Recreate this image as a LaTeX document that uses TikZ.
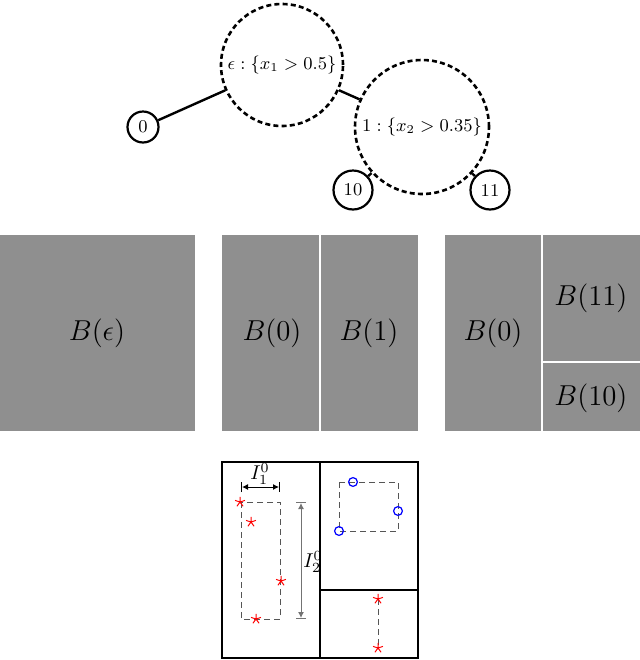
\documentclass[tikz,border=0pt]{standalone}
\usetikzlibrary{arrows.meta, plotmarks}
\definecolor{panelgray}{RGB}{143,143,143}
\definecolor{hullgray}{RGB}{85,85,85}

\begin{document}
\begin{tikzpicture}[x=0.5pt, y=-0.5pt, >=latex,
    split/.style={circle, draw, line width=1.3pt, dash pattern=on 2.5pt off 1.6pt, inner sep=0pt, font=\small},
    leaf/.style={circle, draw, line width=1.1pt, inner sep=0pt, minimum size=19.5pt, font=\small},
    edge/.style={line width=1.2pt},
    cell/.style={font=\Large},
    sep/.style={white, line width=0.9pt},
    frame/.style={line width=1.2pt},
    hull/.style={hullgray, line width=0.5pt, dash pattern=on 3pt off 2pt},
    dim/.style={>={Latex[length=3pt, width=3pt]}, |<->|, line width=0.5pt},
    redpts/.style={only marks, mark=star, mark size=2.6pt, mark options={red, line width=0.5pt}},
    bluepts/.style={only marks, mark=o, mark size=2.2pt, mark options={blue, line width=0.6pt}}]
    \useasboundingbox (0,0) rectangle (640,660);

    % 1. The partition tree
    \node[split, minimum size=61pt] (eps) at (282,65) {$\epsilon:\{x_1>0.5\}$};
    \node[split, minimum size=67pt] (one) at (422,127) {$1:\{x_2>0.35\}$};
    \node[leaf, minimum size=15.5pt] (zero) at (143,127) {0};
    \node[leaf] (onezero) at (353,190) {10};
    \node[leaf] (oneone) at (490,190) {11};
    \draw[edge] (zero) -- (eps);
    \draw[edge] (eps) -- (one);
    \draw[edge] (one) -- (onezero);
    \draw[edge] (one) -- (oneone);

    % 2. The three partitions of the box
    \fill[panelgray] (0,235) rectangle (195,431);
    \fill[panelgray] (222,235) rectangle (418,431);
    \fill[panelgray] (445,235) rectangle (640,431);
    \draw[sep] (320,235) -- (320,431);
    \draw[sep] (542,235) -- (542,431);
    \draw[sep] (542,362) -- (640,362);

    \node[cell] (Beps) at (97,333) {$B(\epsilon)$};
    \node[cell] (Bzero) at (272,333) {$B(0)$};
    \node[cell] (Bone) at (369,333) {$B(1)$};
    \node[cell] (Bzerob) at (493,333) {$B(0)$};
    \node[cell] (Boneone) at (591,298) {$B(11)$};
    \node[cell] (Bonezero) at (591,398) {$B(10)$};

    % 3. Data points and their bounding boxes
    \draw[frame] (222,462) rectangle (418,658);
    \draw[frame] (320,462) -- (320,658);
    \draw[frame] (320,590) -- (418,590);

    \draw[hull] (241,502) rectangle (280,619);
    \draw[hull] (339,482) rectangle (398,531);
    \draw[hull] (378,599) -- (378,648);

    \draw[dim] (241,487) -- (280,487);
    \node[inner sep=1pt] (Ione) at (260,474) {$I_1^0$};
    \draw[dim, gray!90!black] (301,502) -- (301,619);
    \node[inner sep=1pt] (Itwo) at (313,562) {$I_2^0$};

    \path plot[redpts] coordinates {(240,502) (251,522) (281,581) (256,619) (378,599) (378,648)};
    \path plot[bluepts] coordinates {(353,482) (398,511) (339,531)};
\end{tikzpicture}
\end{document}
